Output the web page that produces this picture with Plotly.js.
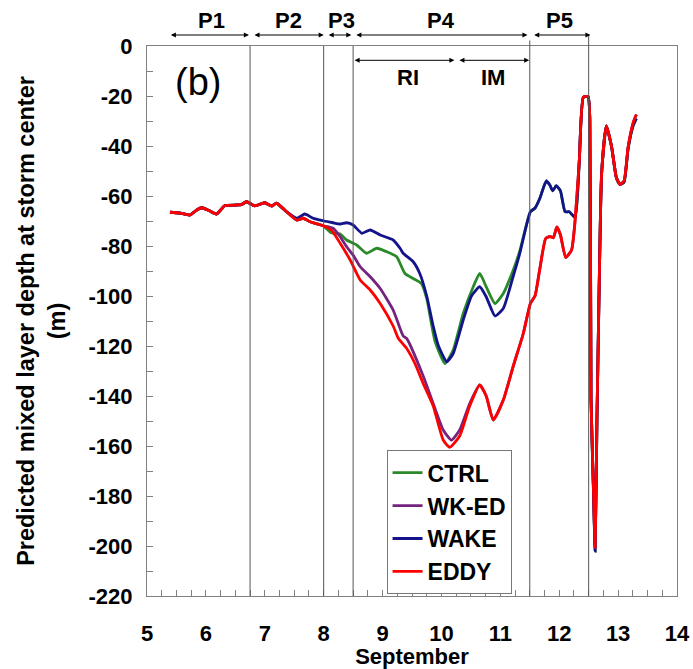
<!DOCTYPE html>
<html>
<head>
<meta charset="utf-8">
<script src="https://cdn.plot.ly/plotly-3.0.1.min.js"></script>
<style>html,body{margin:0;padding:0;background:#fff;}</style>
</head>
<body>
<div id="chart" style="width:693px;height:669px;"></div>
<script>
// ---- data (day of September, mixed layer depth in m) ----
const sharedDays  = [5.39, 5.55, 5.73, 5.85, 5.93, 6.05, 6.18, 6.32, 6.52, 6.60, 6.69, 6.83, 7.00, 7.12, 7.20, 7.37];
const sharedDepth = [-66.5, -66.8, -67.6, -65.5, -64.7, -65.8, -67.2, -63.9, -63.6, -63.5, -62.3, -63.9, -62.7, -64.0, -62.9, -66.3];

const eddyDays  = [7.54, 7.65, 7.77, 7.99, 8.13, 8.28, 8.45, 8.62, 8.79, 8.96, 9.18, 9.27, 9.41, 9.55, 9.69, 9.86, 10.03, 10.14, 10.31, 10.48, 10.65, 10.76, 10.88, 11.05, 11.22, 11.39, 11.51, 11.59, 11.67, 11.77, 11.84, 11.90, 11.96, 12.02, 12.11, 12.21, 12.26, 12.34, 12.41, 12.49, 12.52, 12.54, 12.58, 12.61, 12.64, 12.68, 12.72, 12.80, 12.89, 12.97, 13.03, 13.10, 13.17, 13.26, 13.31];
const eddyDepth = [-69.6, -68.9, -70.3, -71.9, -73.6, -78.9, -85.6, -93.6, -97.6, -103, -112, -117, -121, -127, -135, -144, -157.6, -160.5, -156, -144, -135.6, -140, -149.6, -141.6, -128, -115, -103, -99.9, -89.2, -77, -76.2, -76.7, -72.4, -75.5, -84.6, -81.6, -72.4, -46.4, -20.5, -20.2, -29.6, -141, -176, -200.6, -150, -93.8, -51, -32, -40.4, -52.6, -55.3, -54, -40.4, -30.4, -27.4];

const wkedDays  = [7.54, 7.65, 7.77, 7.99, 8.16, 8.28, 8.39, 8.50, 8.62, 8.79, 8.96, 9.18, 9.35, 9.41, 9.69, 9.86, 10.03, 10.17, 10.31, 10.48, 10.65, 10.76, 10.88, 11.05, 11.22, 11.39, 11.51, 11.59, 11.67, 11.77, 11.84, 11.90, 11.96, 12.02, 12.11, 12.21, 12.26, 12.34, 12.41, 12.49, 12.52, 12.54, 12.58, 12.61, 12.64, 12.68, 12.72, 12.80, 12.89, 12.97, 13.03, 13.10, 13.17, 13.26, 13.31];
const wkedDepth = [-69.6, -68.9, -70.3, -71.9, -72.9, -76.3, -80.3, -83.6, -88.3, -92.3, -97, -105.6, -116, -117, -132, -143, -153.6, -157.6, -153.6, -143, -135.6, -140, -149.6, -141.6, -128, -115, -103, -99.9, -89.2, -77, -76.2, -76.7, -72.4, -75.5, -84.6, -81.6, -72.4, -46.4, -20.5, -20.2, -29.6, -141, -176, -200.6, -150, -93.8, -51, -32, -40.4, -52.6, -55.3, -54, -40.4, -30.4, -27.4];

const wakeDays  = [7.54, 7.68, 7.82, 7.99, 8.16, 8.28, 8.39, 8.50, 8.65, 8.79, 8.96, 9.18, 9.30, 9.35, 9.52, 9.63, 9.75, 9.86, 9.95, 10.09, 10.20, 10.37, 10.51, 10.65, 10.76, 10.91, 11.05, 11.22, 11.33, 11.51, 11.59, 11.67, 11.78, 11.84, 11.89, 11.95, 12.02, 12.10, 12.17, 12.27, 12.34, 12.41, 12.49, 12.52, 12.54, 12.58, 12.61, 12.64, 12.68, 12.72, 12.80, 12.89, 12.97, 13.03, 13.10, 13.17, 13.26, 13.31];
const wakeDepth = [-68.9, -67.2, -68.9, -69.9, -70.7, -71.2, -70.7, -71.6, -74.9, -73.6, -75.6, -77.6, -81, -82.9, -86.3, -90.9, -100, -112, -120, -126.3, -123, -109.6, -100, -96.3, -100.3, -108, -105, -92, -83, -66.3, -64.8, -61, -54, -55.6, -57.9, -55.9, -57.9, -66.3, -66.3, -68.6, -46.4, -20.5, -20.2, -29.6, -141, -177, -202, -151, -94, -51, -32, -40.4, -52.6, -55.3, -54.5, -41, -31.5, -29];

const ctrlDays  = [7.54, 7.65, 7.77, 7.99, 8.13, 8.28, 8.39, 8.56, 8.73, 8.90, 9.07, 9.24, 9.38, 9.52, 9.66, 9.75, 9.89, 10.06, 10.20, 10.37, 10.54, 10.65, 10.76, 10.91, 11.05, 11.22, 11.33, 11.51, 11.59, 11.67, 11.78, 11.84, 11.89, 11.95, 12.02, 12.10, 12.17, 12.27, 12.34, 12.41, 12.49, 12.52, 12.54, 12.58, 12.61, 12.64, 12.68, 12.72, 12.80, 12.89, 12.97, 13.03, 13.10, 13.17, 13.26, 13.31];
const ctrlDepth = [-69.6, -68.9, -70.3, -71.9, -74.7, -75.2, -77.6, -79.6, -82.9, -80.9, -82.3, -84.3, -91, -93, -95, -101, -118, -127, -121.6, -107, -96.3, -91, -96.3, -103, -99, -89.6, -82, -66.3, -64.8, -61, -54, -55.6, -57.9, -55.9, -57.9, -66.3, -66.3, -68.6, -46.4, -20.5, -20.2, -29.6, -141, -177, -202, -151, -94, -51, -32, -40.4, -52.6, -55.3, -54.5, -41, -31.5, -29];

const seriesNames  = ['CTRL', 'WK-ED', 'WAKE', 'EDDY'];
const seriesColors = ['#2a8a2a', '#74237f', '#14148a', '#ff0000'];

const periodBounds = [6.75, 8.0, 8.5, 11.5, 12.5];
const periodLabels = ['P1', 'P2', 'P3', 'P4', 'P5'];
const periodStart  = [5.38, 6.80, 8.06, 8.53, 11.55];
const periodEnd    = [6.73, 8.00, 8.47, 11.46, 12.53];
const periodLabelX = [6.10, 7.40, 8.30, 10.00, 12.00];
const subLabels    = ['RI', 'IM'];
const subStart     = [8.50, 10.28];
const subEnd       = [10.22, 11.49];
const subLabelX    = [9.43, 10.87];

const yTickVals = [0, -20, -40, -60, -80, -100, -120, -140, -160, -180, -200, -220];
const yTickText = ['0', '-20', '-40', '-60', '-80', '-100', '-120', '-140', '-160', '-180', '-200', '-220'];

// ---- build ----
const xs = [ctrlDays, wkedDays, wakeDays, eddyDays];
const ys = [ctrlDepth, wkedDepth, wakeDepth, eddyDepth];
const traces = seriesNames.map((n, i) => ({
  x: sharedDays.concat(xs[i]),
  y: sharedDepth.concat(ys[i]),
  name: n,
  type: 'scatter',
  mode: 'lines',
  line: {color: seriesColors[i], width: 2.8, shape: 'spline', smoothing: 0.5}
}));

const FONT = 'Arial, "Liberation Sans", sans-serif';
const bold = (s) => ({family: FONT, size: s, color: '#000', weight: 'bold'});

const shapes = periodBounds.map((d, i) => ({
  type: 'line', xref: 'x', yref: 'paper', x0: d, x1: d, y0: 0,
  y1: (i === 4) ? 1.02 : (i === 3 ? 1.01 : 1),
  line: {color: '#555', width: 1}
}));

const annotations = [];
periodLabels.forEach((p, i) => {
  annotations.push({xref: 'x', yref: 'paper', x: periodEnd[i], y: 1.02, ax: periodStart[i], ay: 0,
    axref: 'x', ayref: 'pixel', text: '', showarrow: true, arrowhead: 2, arrowside: 'end+start',
    arrowsize: 1, arrowwidth: 1, arrowcolor: '#000'});
  annotations.push({xref: 'x', yref: 'paper', x: periodLabelX[i], y: 1.047, text: p, showarrow: false,
    font: bold(22), yanchor: 'middle'});
});
subLabels.forEach((p, i) => {
  annotations.push({xref: 'x', yref: 'paper', x: subEnd[i], y: 0.974, ax: subStart[i], ay: 0,
    axref: 'x', ayref: 'pixel', text: '', showarrow: true, arrowhead: 2, arrowside: 'end+start',
    arrowsize: 1, arrowwidth: 1, arrowcolor: '#000'});
  annotations.push({xref: 'x', yref: 'paper', x: subLabelX[i], y: 0.943, text: p, showarrow: false,
    font: bold(22), yanchor: 'middle'});
});
annotations.push({xref: 'x', yref: 'paper', x: 5.87, y: 0.935, text: '(b)', showarrow: false,
  font: {family: FONT, size: 38, color: '#000'}, yanchor: 'middle'});

const layout = {
  width: 693, height: 669,
  margin: {l: 147, r: 16, t: 46, b: 73},
  paper_bgcolor: '#fff', plot_bgcolor: '#fff',
  showlegend: true,
  legend: {x: 0.452, y: 0.265, xanchor: 'left', yanchor: 'top', bgcolor: '#fff',
    bordercolor: '#777', borderwidth: 1, font: bold(23), itemwidth: 30, tracegroupgap: 0},
  xaxis: {range: [5, 14], dtick: 1, tick0: 5, showgrid: false, zeroline: false,
    showline: true, mirror: true, linecolor: '#808080', linewidth: 1,
    ticks: 'inside', ticklen: 6, tickcolor: '#808080',
    minor: {dtick: 0.25, tick0: 5, ticks: 'inside', ticklen: 6, tickcolor: '#808080', showgrid: false},
    tickfont: bold(22), ticklabelstandoff: 18,
    title: {text: 'September', font: bold(22), standoff: 0}},
  yaxis: {range: [-220, 0], tickmode: 'array', tickvals: yTickVals, ticktext: yTickText,
    showgrid: false, zeroline: false,
    showline: true, mirror: true, linecolor: '#808080', linewidth: 1,
    ticks: 'inside', ticklen: 6, tickcolor: '#808080',
    minor: {tickmode: 'linear', dtick: 10, tick0: 0, ticks: 'inside', ticklen: 6, tickcolor: '#808080', showgrid: false},
    tickfont: bold(22), ticklabelstandoff: 9,
    title: {text: 'Predicted mixed layer depth at storm center<br>(m)', font: bold(23.5), standoff: 16}},
  shapes: shapes,
  annotations: annotations
};

Plotly.newPlot('chart', traces, layout, {staticPlot: true, displayModeBar: false});
</script>
</body>
</html>
